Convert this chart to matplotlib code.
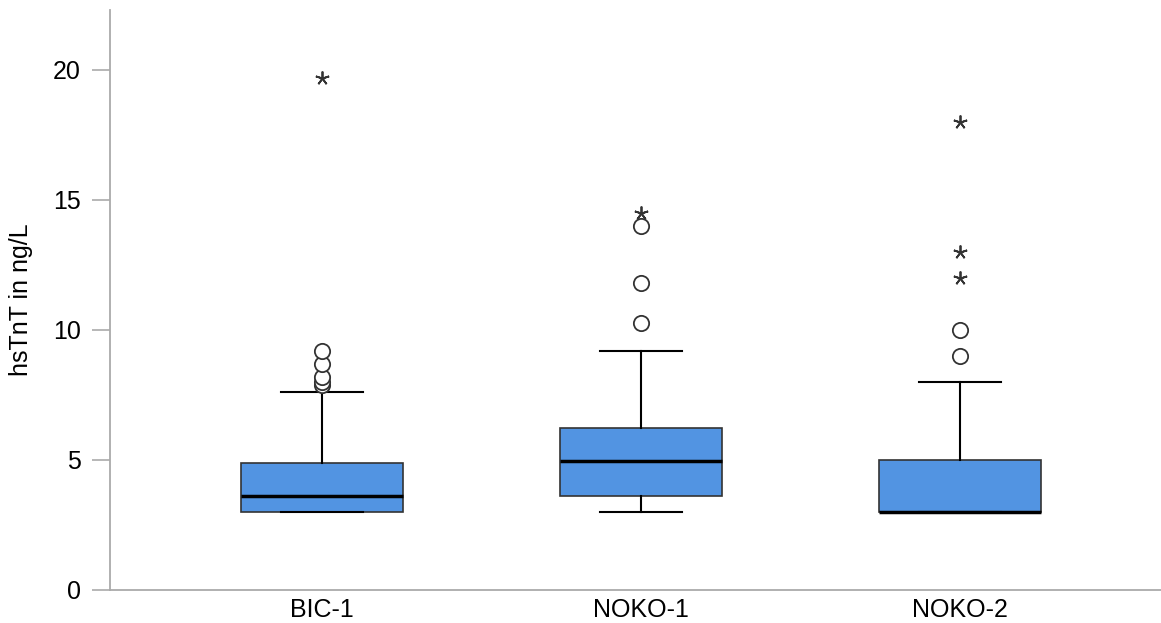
import numpy as np
import matplotlib.pyplot as plt

plt.rcParams["font.family"] = ["Liberation Sans", "DejaVu Sans"]

groups = ["BIC-1", "NOKO-1", "NOKO-2"]
q1 = [3.0, 3.62, 3.0]
med = [3.63, 4.95, 3.0]
q3 = [4.87, 6.22, 5.0]
whis_lo = [3.0, 3.0, 3.0]
whis_hi = [7.63, 9.2, 8.0]
# circles = outliers, stars = extreme values
circles = [[7.9, 8.0, 8.2, 8.7, 9.2], [10.26, 11.8, 14.0], [9.0, 10.0]]
stars = [[19.7], [14.5], [12.0, 13.0, 18.0]]

fig = plt.figure(figsize=(11.61, 6.23), dpi=100)
ax = fig.add_axes([0.0947, 0.053, 0.9053, 0.931])

stats = []
for i in range(len(groups)):
    stats.append({"label": groups[i], "q1": q1[i], "med": med[i], "q3": q3[i],
                  "whislo": whis_lo[i], "whishi": whis_hi[i], "fliers": []})

pos = np.arange(1, len(groups) + 1)
ax.bxp(stats, positions=pos, widths=0.51, patch_artist=True, showfliers=False,
       boxprops=dict(facecolor="#5294E2", edgecolor="#333333", linewidth=1.2),
       medianprops=dict(color="black", linewidth=2.5),
       whiskerprops=dict(color="black", linewidth=1.5),
       capprops=dict(color="black", linewidth=1.5), capwidths=0.255)

for i in range(len(groups)):
    ax.plot([pos[i]] * len(circles[i]), circles[i], linestyle="none", marker="o",
            markersize=11, markerfacecolor="white", markeredgecolor="#333333",
            markeredgewidth=1.3, zorder=5)
    ax.plot([pos[i]] * len(stars[i]), stars[i], linestyle="none", marker=(5, 2, 0),
            markersize=10, markeredgecolor="#333333", markeredgewidth=1.3, zorder=6)

ax.set_xlim(0.335, 3.63)
ax.set_ylim(0, 22.3)
ax.set_yticks([0, 5, 10, 15, 20])
ax.set_xticks(pos)
ax.set_xticklabels(groups)
ax.set_ylabel("hsTnT in ng/L", fontsize=18, labelpad=14)

for s in ["top", "right"]:
    ax.spines[s].set_visible(False)
for s in ["left", "bottom"]:
    ax.spines[s].set_color("#aaaaaa")
    ax.spines[s].set_linewidth(1.3)
ax.tick_params(axis="y", length=13, color="#aaaaaa", width=1.2, labelsize=18, pad=8)
ax.tick_params(axis="x", length=0, labelsize=18, pad=6)

fig.savefig("out.png", dpi=100)
